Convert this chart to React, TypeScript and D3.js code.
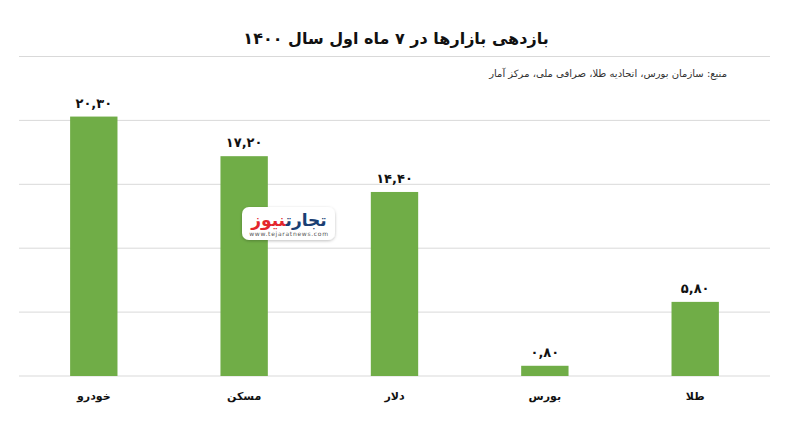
import React from "react";
import * as d3 from "d3";

const categories = ["خودرو", "مسکن", "دلار", "بورس", "طلا"];
const values = [20.3, 17.2, 14.4, 0.8, 5.8];
const valueLabels = ["۲۰,۳۰", "۱۷,۲۰", "۱۴,۴۰", "۰,۸۰", "۵,۸۰"];
const gridTicks = [0, 5, 10, 15, 20, 25];
const title = "بازدهی بازارها در ۷ ماه اول سال ۱۴۰۰";
const source = "منبع: سازمان بورس، اتحادیه طلا، صرافی ملی، مرکز آمار";

const W = 800;
const H = 424;
const FONT = "'DejaVu Sans', 'Noto Sans', sans-serif";

export default function App() {
  const x = d3.scaleBand<string>().domain(categories).range([19, 770]).paddingInner(0.685).paddingOuter(0.34);
  const y = d3.scaleLinear().domain([0, 25]).range([376, 56.5]);

  return (
    <svg
      width={W}
      height={H}
      viewBox={`0 0 ${W} ${H}`}
      style={{ position: "absolute", left: 0, top: 0, background: "#fff" }}
    >
      <defs>
        <filter id="sh" x="-20%" y="-30%" width="140%" height="160%">
          <feDropShadow dx="0" dy="1" stdDeviation="1.5" floodColor="#000" floodOpacity="0.25" />
        </filter>
      </defs>
      <rect width={W} height={H} fill="#fff" />
      <text
        x={396}
        y={44}
        textAnchor="middle"
        fontFamily={FONT}
        fontWeight="bold"
        fontSize={16}
        fill="#111"
        direction="rtl"
      >
        {title}
      </text>
      {gridTicks.map((t) => (
        <line key={t} x1={19} x2={770} y1={y(t)} y2={y(t)} stroke="#d9d9d9" strokeWidth={1} />
      ))}
      <text
        x={727}
        y={77}
        textAnchor="start"
        fontFamily={FONT}
        fontSize={10}
        fill="#333"
        direction="rtl"
      >
        {source}
      </text>
      {categories.map((c, i) => (
        <g key={c}>
          <rect
            x={x(c)!}
            y={y(values[i])}
            width={x.bandwidth()}
            height={y(0) - y(values[i])}
            fill="#70ad47"
          />
          <text
            x={x(c)! + x.bandwidth() / 2}
            y={y(values[i]) - 9}
            textAnchor="middle"
            fontFamily={FONT}
            fontWeight="bold"
            fontSize={13}
            fill="#111"
            direction="rtl"
          >
            {valueLabels[i]}
          </text>
          <text
            x={x(c)! + x.bandwidth() / 2}
            y={400}
            textAnchor="middle"
            fontFamily={FONT}
            fontWeight="bold"
            fontSize={11}
            fill="#111"
            direction="rtl"
          >
            {c}
          </text>
        </g>
      ))}
      <g>
        <rect x={242} y={207} width={93} height={33} rx={7} fill="#fff" filter="url(#sh)" />
        <text x={289} y={226} textAnchor="middle" fontFamily={FONT} fontWeight="bold" fontSize={17} direction="rtl">
          <tspan fill="#1b3f73">تجارت</tspan>
          <tspan fill="#e3262d">نیوز</tspan>
        </text>
        <text x={289} y={236} textAnchor="middle" fontFamily={FONT} fontSize={6} fill="#555" letterSpacing={0.7}>
          www.tejaratnews.com
        </text>
      </g>
    </svg>
  );
}
